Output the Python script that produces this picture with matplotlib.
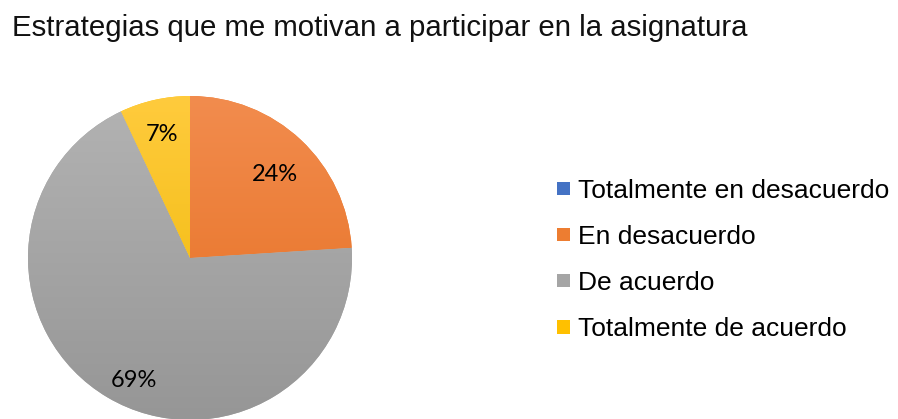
import numpy as np
import matplotlib
matplotlib.use("Agg")
import matplotlib.pyplot as plt
from matplotlib.colors import LinearSegmentedColormap

title = "Estrategias que me motivan a participar en la asignatura"
categories = ["Totalmente en desacuerdo", "En desacuerdo", "De acuerdo", "Totalmente de acuerdo"]
values = [0, 24, 69, 7]
colors = ["#4472C4", "#ED7D31", "#A5A5A5", "#FFC000"]
grad_top = ["#5B85D0", "#F28C4E", "#B3B3B3", "#FFCB3D"]
grad_bot = ["#3A66B8", "#E46C1C", "#969696", "#EDB600"]
label_dist = [0.75, 0.742, 0.82, 0.793]
label_shift_deg = [0.0, -1.5, 5.8, 0.0]

W, H = 898, 419
fig = plt.figure(figsize=(W / 100, H / 100), dpi=100)
fig.patch.set_facecolor("white")

cx, cy, r = 190, H - 258, 162
ax = fig.add_axes([(cx - r) / W, (cy - r) / H, 2 * r / W, 2 * r / H])
ax.axis("off")

def pct(p):
    return f"{p:.0f}%" if p > 0.5 else ""

wedges, texts, autotexts = ax.pie(
    values, colors=colors, startangle=90, counterclock=False, radius=1,
    autopct=pct, pctdistance=0.78,
    textprops=dict(fontsize=17, family="Lato", color="#000000"),
    wedgeprops=dict(linewidth=0),
)

# vertical gradient fill inside each wedge
for w, top, bot in zip(wedges, grad_top, grad_bot):
    cmap = LinearSegmentedColormap.from_list("g", [bot, top])
    grad = np.linspace(0, 1, 256).reshape(-1, 1)
    im = ax.imshow(grad, extent=(-1, 1, -1, 1), origin="lower", cmap=cmap,
                   aspect="auto", zorder=w.get_zorder() + 0.1)
    im.set_clip_path(w)
for t, d, s in zip(autotexts, label_dist, label_shift_deg):
    x, y = t.get_position()
    a = np.arctan2(y, x) + np.deg2rad(s)
    t.set_position((d * np.cos(a), d * np.sin(a)))
    t.set_va("center_baseline")
    t.set_zorder(10)
ax.set_xlim(-1, 1)
ax.set_ylim(-1, 1)
ax.set_aspect("equal")

fs = 19
leg = fig.legend(
    wedges, categories, loc="center left",
    bbox_to_anchor=(557 / W, (H - 260) / H), bbox_transform=fig.transFigure,
    frameon=False, prop=dict(family="Liberation Sans", size=fs),
    handlelength=0.51, handleheight=0.41, handletextpad=0.27,
    labelspacing=0.84, borderpad=0, borderaxespad=0,
)

fig.text(12 / W, 1 - 28 / H, title, fontsize=21.2, family="Liberation Sans",
         color="#111111", va="center", ha="left")

fig.savefig("out.png", dpi=100)
